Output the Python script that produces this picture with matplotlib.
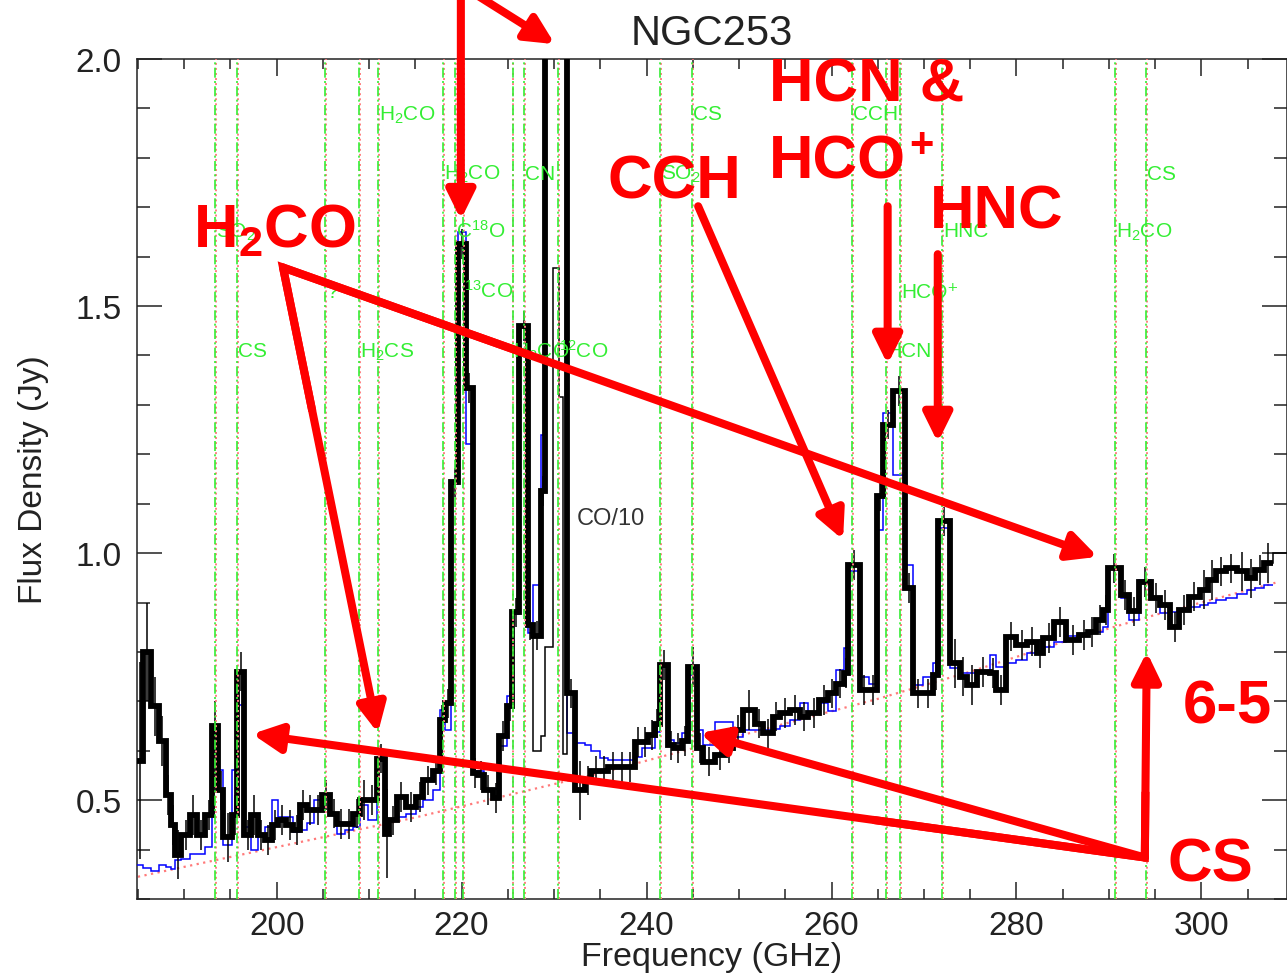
import numpy as np
import matplotlib
matplotlib.use('Agg')
import matplotlib.pyplot as plt
from matplotlib.ticker import MultipleLocator

plt.rcParams['font.family'] = ['Liberation Sans', 'DejaVu Sans']
plt.rcParams['mathtext.fontset'] = 'custom'
plt.rcParams['mathtext.rm'] = 'Liberation Sans'
plt.rcParams['mathtext.it'] = 'Liberation Sans:italic'
plt.rcParams['mathtext.bf'] = 'Liberation Sans:bold'

# channel edges (GHz) and measured flux (Jy)
edges = [184.9, 185.5, 186.4, 187.3, 188.0, 188.6, 189.0, 189.7, 190.6, 191.4, 192.3,
         193.0, 193.7, 194.2, 195.2, 195.7, 196.5, 197.2, 198.0, 198.7, 199.5,
         200.2, 201.0, 201.8, 202.5, 203.3, 204.0, 204.9, 205.8, 206.5, 207.4,
         208.3, 209.0, 209.9, 210.8, 211.7, 212.2, 213.0, 214.0, 215.1, 215.8,
         216.9, 217.65, 218.2, 218.9, 219.6, 220.5, 221.2, 221.8, 222.4, 223.4,
         224.0, 224.9, 225.5, 226.2, 227.2, 227.7, 228.6, 229.0, 229.9, 230.5,
         231.0, 231.4, 232.3, 233.3, 234.0, 235.0, 235.8, 236.9, 237.8, 238.7,
         239.5, 240.2, 240.9, 241.4, 242.3, 243.0, 243.8, 244.5, 245.5, 246.1,
         247.4, 248.5, 249.4, 250.4, 251.7, 252.6, 253.7, 254.4, 255.5, 256.6,
         257.5, 258.7, 259.6, 260.5, 261.3, 261.8, 263.1, 264.0, 264.9, 265.6,
         266.7, 267.9, 268.8, 269.9, 271.0, 271.5, 272.8, 273.9, 274.6, 275.7,
         277.1, 277.8, 278.9, 280.0, 281.1, 282.2, 282.9, 284.1, 285.4, 286.8,
         287.7, 288.6, 289.4, 289.9, 291.3, 292.2, 293.3, 294.6, 295.5, 296.6,
         297.6, 298.7, 299.8, 300.7, 301.6, 302.7, 303.8, 304.9, 305.8, 306.8,
         307.7]

flux = [0.58, 0.80, 0.69, 0.62, 0.51, 0.45, 0.39, 0.43, 0.47, 0.43,
        0.47, 0.65, 0.52, 0.425, 0.47, 0.76, 0.43, 0.47, 0.43, 0.42,
        0.45, 0.46, 0.45, 0.44, 0.49, 0.48, 0.48, 0.51, 0.473, 0.452,
        0.452, 0.473, 0.50, 0.50, 0.584, 0.432, 0.459, 0.506, 0.486, 0.506,
        0.54, 0.56, 0.662, 0.696, 1.143, 1.625, 1.334, 0.555, 0.55, 0.52,
        0.505, 0.63, 0.69, 0.88, 1.46, 0.855, 0.833, 1.126, 8.1, 15.8,
        13.2, 5.9, 0.716, 0.52, 0.54, 0.56, 0.56, 0.567, 0.567, 0.567,
        0.618, 0.618, 0.632, 0.655, 0.774, 0.611, 0.605, 0.62, 0.77, 0.605,
        0.578, 0.591, 0.605, 0.642, 0.682, 0.655, 0.635, 0.669, 0.676, 0.682,
        0.669, 0.676, 0.703, 0.716, 0.736, 0.757, 0.976, 0.723, 0.723, 1.115,
        1.26, 1.328, 0.929, 0.716, 0.716, 0.753, 1.064, 0.777, 0.75, 0.733,
        0.76, 0.757, 0.723, 0.831, 0.814, 0.821, 0.797, 0.828, 0.861, 0.824,
        0.834, 0.841, 0.865, 0.885, 0.969, 0.915, 0.882, 0.942, 0.909, 0.895,
        0.851, 0.885, 0.912, 0.926, 0.946, 0.963, 0.969, 0.963, 0.949, 0.966,
        0.98]

err = [0.20, 0.10, 0.06, 0.05, 0.04, 0.04, 0.05, 0.03, 0.04, 0.03,
       0.03, 0.05, 0.04, 0.05, 0.04, 0.04, 0.03, 0.04, 0.03, 0.03,
       0.03, 0.03, 0.03, 0.03, 0.03, 0.03, 0.03, 0.03, 0.03, 0.03,
       0.03, 0.03, 0.04, 0.03, 0.03, 0.09, 0.03, 0.03, 0.03, 0.03,
       0.03, 0.03, 0.03, 0.03, 0.03, 0.03, 0.03, 0.03, 0.03, 0.03,
       0.03, 0.03, 0.03, 0.03, 0.03, 0.03, 0.03, 0.03, 0.0, 0.0,
       0.0, 0.0, 0.03, 0.06, 0.03, 0.03, 0.03, 0.03, 0.03, 0.03,
       0.03, 0.03, 0.03, 0.03, 0.03, 0.03, 0.03, 0.03, 0.04, 0.03,
       0.03, 0.03, 0.03, 0.03, 0.04, 0.03, 0.03, 0.03, 0.03, 0.03,
       0.03, 0.03, 0.03, 0.03, 0.03, 0.03, 0.03, 0.03, 0.03, 0.03,
       0.03, 0.03, 0.03, 0.03, 0.03, 0.03, 0.03, 0.05, 0.04, 0.04,
       0.03, 0.03, 0.03, 0.03, 0.03, 0.03, 0.03, 0.03, 0.03, 0.03,
       0.03, 0.03, 0.03, 0.03, 0.03, 0.03, 0.03, 0.03, 0.03, 0.03,
       0.03, 0.03, 0.03, 0.04, 0.04, 0.03, 0.03, 0.04, 0.04, 0.03,
       0.04]

# model spectrum (blue)
model = [0.368, 0.362, 0.356, 0.368, 0.364, 0.361, 0.378, 0.381, 0.392, 0.392,
         0.405, 0.622, 0.561, 0.409, 0.561, 0.692, 0.446, 0.40, 0.429, 0.446,
         0.50, 0.466, 0.466, 0.436, 0.44, 0.453, 0.50, 0.507, 0.473, 0.432,
         0.44, 0.446, 0.49, 0.459, 0.58, 0.459, 0.459, 0.466, 0.473, 0.486,
         0.50, 0.52, 0.682, 0.642, 1.14, 1.649, 1.22, 0.56, 0.56, 0.523,
         0.523, 0.61, 0.71, 0.876, 1.457, 0.838, 0.936, 1.24, 9.0, 15.0,
         13.0, 6.0, 0.635, 0.615, 0.611, 0.60, 0.585, 0.581, 0.581, 0.581,
         0.588, 0.605, 0.605, 0.638, 0.77, 0.621, 0.615, 0.635, 0.753, 0.642,
         0.611, 0.659, 0.659, 0.628, 0.642, 0.642, 0.642, 0.645, 0.65, 0.662,
         0.696, 0.675, 0.696, 0.68, 0.763, 0.807, 0.963, 0.75, 0.736, 1.047,
         1.284, 1.159, 0.976, 0.733, 0.75, 0.777, 1.05, 0.767, 0.757, 0.757,
         0.76, 0.794, 0.77, 0.777, 0.784, 0.797, 0.80, 0.81, 0.82, 0.832,
         0.835, 0.838, 0.84, 0.851, 0.97, 0.909, 0.865, 0.946, 0.909, 0.878,
         0.88, 0.885, 0.89, 0.895, 0.9, 0.905, 0.91, 0.918, 0.925, 0.93,
         0.935]

# CO/10 thin curve and last channel
co_edges = [227.2, 227.7, 228.6, 229.0, 229.9, 230.5, 231.0, 231.4, 232.3]
co_flux = [0.855, 0.60, 0.63, 0.81, 1.577, 1.316, 0.594, 0.716]
end_edges = [306.8, 307.7, 309.2]
end_flux = [0.98, 1.0]

# continuum (red dotted)
cont_freq = [185, 195, 205, 215, 225, 235, 245, 255, 265, 275, 285, 295, 305, 308]
cont_flux = [0.345, 0.385, 0.425, 0.465, 0.51, 0.555, 0.605, 0.655, 0.705, 0.76, 0.82, 0.875, 0.925, 0.94]

# line identifications
line_freq = [193.33, 195.68, 205.22, 208.9, 210.98, 217.95, 219.28, 220.17, 225.51, 226.74,
             230.38, 241.44, 244.93, 262.23, 265.87, 267.46, 271.96, 290.63, 293.98]
line_name = ['SO$_2$', 'CS', '?', 'H$_2$CS', 'H$_2$CO', 'H$_2$CO', 'C$^{18}$O', '$^{13}$CO',
             'H$_2$CO', 'CN', '$^{12}$CO', 'SO$_2$', 'CS', 'CCH', 'HCN', 'HCO\u207a', 'HNC',
             'H$_2$CO', 'CS']
label_row = [2, 4, 3, 4, 0, 1, 2, 3, 4, 1, 4, 1, 0, 0, 4, 3, 2, 2, 1]
row_y = [1.878, 1.757, 1.641, 1.519, 1.398]

fig = plt.figure(figsize=(12.87, 9.79), dpi=100)
ax = fig.add_axes([137/1287, 79/979, 1149.5/1287, 840/979])

green = '#33ee33'

ax.plot(cont_freq, cont_flux, color='#ff7a7a', lw=1.6, ls=(0, (1, 2)), zorder=2)
ax.stairs(model, edges, baseline=None, color='#0000ff', lw=1.1, zorder=3)
ax.stairs(co_flux, co_edges, baseline=None, color='k', lw=1.1, zorder=3)
ax.stairs(end_flux, end_edges, baseline=None, color='k', lw=1.1, zorder=3)
ax.stairs(flux, edges, baseline=None, color='k', lw=4.2, zorder=4)
centers = (np.array(edges[:-1]) + np.array(edges[1:])) / 2
ax.errorbar(centers, flux, yerr=err, fmt='none', ecolor='k', elinewidth=1.1, capsize=0, zorder=4)

for f in line_freq:
    ax.axvline(f + 0.1, color='#ff8080', lw=1.4, ls=(0, (1, 1.6)), zorder=5)
    ax.axvline(f, color=green, lw=1.2, ls=(0, (6, 2, 1.2, 2)), zorder=6)
for f, name, r in zip(line_freq, line_name, label_row):
    ax.text(f + 0.1, row_y[r], name, color=green, fontsize=15, ha='left', va='baseline', zorder=7)

ax.text(232.46, 1.072, 'CO/10', fontsize=17, color='#333333', ha='left', va='center', zorder=7)

ax.set_xlim(184.9, 309.2)
ax.set_ylim(0.3, 2.0)
ax.xaxis.set_major_locator(MultipleLocator(20))
ax.xaxis.set_minor_locator(MultipleLocator(5))
ax.yaxis.set_major_locator(MultipleLocator(0.5))
ax.yaxis.set_minor_locator(MultipleLocator(0.1))
ax.tick_params(which='both', direction='in', top=True, right=True, width=1.1, color='#222222',
               labelsize=24, labelcolor='#222222')
ax.tick_params(axis='x', which='major', length=12, pad=8)
ax.tick_params(axis='x', which='minor', length=7)
ax.tick_params(axis='y', which='major', length=18, pad=11)
ax.tick_params(axis='y', which='minor', length=9.5)
ax.yaxis.set_major_formatter(matplotlib.ticker.FormatStrFormatter('%.1f'))
for s in ax.spines.values():
    s.set_linewidth(1.1)
    s.set_color('#222222')

ax.set_xlabel('Frequency (GHz)', fontsize=24.5, color='#222222', labelpad=0)
ax.set_ylabel('Flux Density (Jy)', fontsize=24, color='#222222', labelpad=19)
ax.set_title('NGC253', fontsize=30, color='#222222', pad=11)

# red annotations
red = '#ff0000'
big = dict(color=red, fontsize=44.5, fontweight='bold', ha='left', va='baseline', zorder=10)
ax.text(190.95, 1.621, r'$\mathbf{H_2CO}$', **big)
ax.text(235.83, 1.72, 'CCH', **big)
ax.text(253.22, 1.915, 'HCN &', **big)
ax.text(253.22, 1.761, 'HCO', **big)
ax.text(268.4, 1.826, '+', color=red, fontsize=30, fontweight='bold', ha='left', va='center', zorder=10)
ax.text(270.65, 1.659, 'HNC', **big)
ax.text(297.99, 0.658, '6-5', **big)
ax.text(296.36, 0.338, 'CS', **big)


def red_arrow(tail, tip):
    ax.annotate('', xy=tip, xytext=tail, xycoords='data', annotation_clip=False, zorder=9,
                arrowprops=dict(arrowstyle='-|>,head_length=0.85,head_width=0.42', color=red,
                                lw=5.8, mutation_scale=20, shrinkA=0, shrinkB=0))


def apex_join(apex, tips):
    apex = np.array(apex)
    pts = [apex + 0.3 * (np.array(t) - apex) for t in tips]
    xs = [pts[0][0], apex[0], pts[1][0]]
    ys = [pts[0][1], apex[1], pts[1][1]]
    ax.plot(xs, ys, color=red, lw=5.8, solid_joinstyle='miter', clip_on=False, zorder=9)


red_arrow((219.92, 2.16), (219.92, 1.675))
red_arrow((218.86, 2.162), (230.09, 2.03))

h2co_apex = (200.69, 1.578)
h2co_tips = [(288.79, 0.9925), (210.95, 0.636)]
for t in h2co_tips:
    red_arrow(h2co_apex, t)
apex_join(h2co_apex, h2co_tips)

red_arrow((245.58, 1.702), (261.25, 1.027))
red_arrow((266.07, 1.702), (266.07, 1.382))
red_arrow((271.49, 1.605), (271.49, 1.224))

cs_apex = (293.88, 0.384)
cs_tips = [(197.35, 0.634), (245.77, 0.636), (294.09, 0.80)]
for t in cs_tips:
    red_arrow(cs_apex, t)
apex_join(cs_apex, [cs_tips[0], cs_tips[2]])

fig.savefig('out.png', dpi=100)
